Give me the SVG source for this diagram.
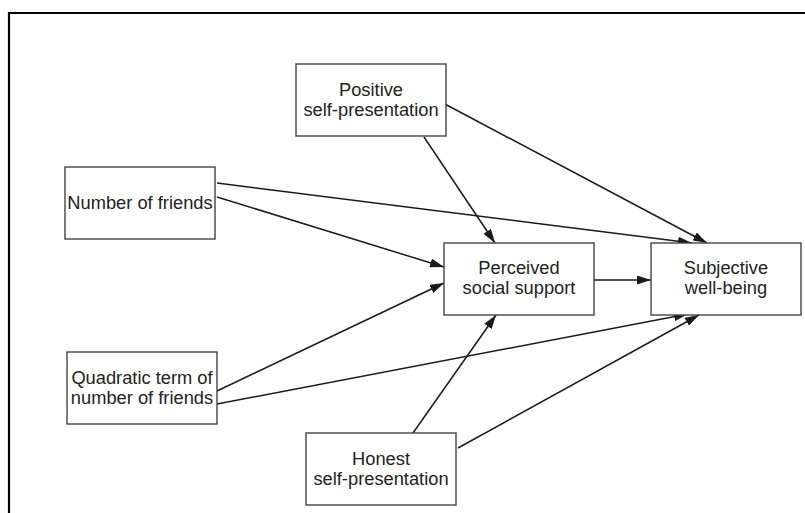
<svg xmlns="http://www.w3.org/2000/svg" width="805" height="513" viewBox="0 0 805 513">
<defs>
<marker id="ah" viewBox="0 0 14 9" refX="14" refY="4.5" markerWidth="14" markerHeight="9" markerUnits="userSpaceOnUse" orient="auto">
<path d="M0,0 L14,4.5 L0,9 Z" fill="#1a1a1a"/>
</marker>
</defs>
<style>
.box{fill:#fff;stroke:#444;stroke-width:1.4}
.t{font-family:"Liberation Sans",Arial,sans-serif;font-size:18.3px;fill:#222;text-anchor:middle}
.c{stroke:#1a1a1a;stroke-width:1.5;fill:none;marker-end:url(#ah)}
</style>
<rect x="0" y="0" width="805" height="513" fill="#fff"/>
<path d="M9,520 L9,13 L810,13" fill="none" stroke="#000" stroke-width="2.2"/>
<g id="connectors">
<line class="c" x1="217" y1="197" x2="444" y2="267"/>
<line class="c" x1="217" y1="183" x2="692" y2="243"/>
<line class="c" x1="424" y1="137" x2="495" y2="243"/>
<line class="c" x1="443" y1="103" x2="707" y2="243"/>
<line class="c" x1="594" y1="280" x2="651" y2="280"/>
<line class="c" x1="217" y1="391" x2="444" y2="283"/>
<line class="c" x1="217" y1="404" x2="688" y2="314"/>
<line class="c" x1="413" y1="433" x2="496" y2="315"/>
<line class="c" x1="458" y1="448" x2="699" y2="315"/>
</g>
<g id="number-of-friends">
<rect class="box" x="65" y="167" width="150" height="72"/>
<text class="t" x="140" y="209">Number of friends</text>
</g>
<g id="positive-self-presentation">
<rect class="box" x="296" y="64" width="150" height="72"/>
<text class="t" x="371" y="96">Positive</text>
<text class="t" x="371" y="116">self-presentation</text>
</g>
<g id="perceived-social-support">
<rect class="box" x="444" y="243" width="150" height="72"/>
<text class="t" x="519" y="274">Perceived</text>
<text class="t" x="519" y="294">social support</text>
</g>
<g id="subjective-well-being">
<rect class="box" x="651" y="243" width="150" height="72"/>
<text class="t" x="726" y="274">Subjective</text>
<text class="t" x="726" y="294">well-being</text>
</g>
<g id="quadratic-term">
<rect class="box" x="67" y="352" width="150" height="72"/>
<text class="t" x="142" y="384">Quadratic term of</text>
<text class="t" x="142" y="404">number of friends</text>
</g>
<g id="honest-self-presentation">
<rect class="box" x="306" y="433" width="150" height="72"/>
<text class="t" x="381" y="465">Honest</text>
<text class="t" x="381" y="485">self-presentation</text>
</g>
</svg>
